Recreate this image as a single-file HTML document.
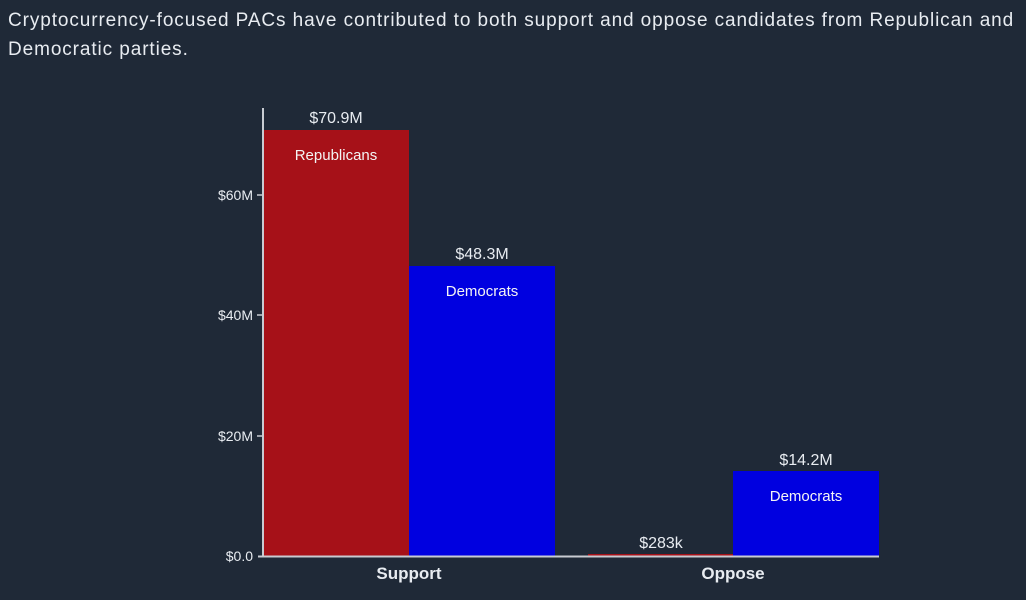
<!DOCTYPE html>
<html><head><meta charset="utf-8"><style>
body{margin:0;width:1026px;height:600px;background:#1f2937;overflow:hidden;font-family:"Liberation Sans",sans-serif;color:#e8ecf1}
.t{position:absolute;left:8px;top:6px;font-size:19px;line-height:29px;width:1018px;letter-spacing:0.9px;white-space:nowrap}
</style></head><body>
<div class="t">Cryptocurrency-focused PACs have contributed to both support and oppose candidates from Republican and<br>Democratic parties.</div>
<svg width="1026" height="600" style="position:absolute;left:0;top:0" font-family="Liberation Sans, sans-serif">
<rect x="264" y="130" width="145" height="426" fill="#a61118"/>
<rect x="409" y="266" width="146" height="290" fill="#0000e0"/>
<rect x="588" y="554" width="145" height="2" fill="#a61118"/>
<rect x="733" y="471" width="146" height="85" fill="#0000e0"/>
<line x1="263" y1="108" x2="263" y2="557" stroke="#c8ccd2" stroke-width="2"/>
<line x1="258" y1="556.5" x2="879" y2="556.5" stroke="#c8ccd2" stroke-width="2"/>
<g stroke="#c8ccd2" stroke-width="1.5">
<line x1="257" y1="195" x2="263" y2="195"/><line x1="257" y1="315" x2="263" y2="315"/><line x1="257" y1="436" x2="263" y2="436"/></g>
<g fill="#e8ecf1" font-size="14" text-anchor="end">
<text x="253" y="200">$60M</text><text x="253" y="320">$40M</text><text x="253" y="441">$20M</text><text x="253" y="561">$0.0</text></g>
<g fill="#e8ecf1" font-size="16" text-anchor="middle">
<text x="336" y="123">$70.9M</text><text x="482" y="259">$48.3M</text><text x="661" y="548">$283k</text><text x="806" y="465">$14.2M</text></g>
<g fill="#f4f4f4" font-size="15" text-anchor="middle">
<text x="336" y="160">Republicans</text><text x="482" y="296">Democrats</text><text x="806" y="501">Democrats</text></g>
<g fill="#e8ecf1" font-size="17" font-weight="bold" text-anchor="middle">
<text x="409" y="579">Support</text><text x="733" y="579">Oppose</text></g>
</svg>
</body></html>
